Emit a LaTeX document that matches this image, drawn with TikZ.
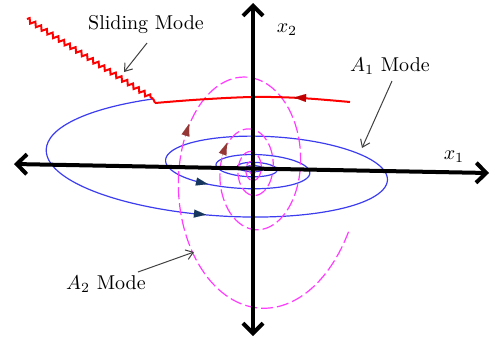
\documentclass[tikz,border=0pt]{standalone}
\usetikzlibrary{arrows.meta,decorations.pathmorphing}
\definecolor{spiralblue}{RGB}{60,60,240}
\definecolor{spiralmag}{RGB}{255,60,255}
\definecolor{navyarrow}{RGB}{23,54,93}
\definecolor{brownarrow}{RGB}{149,55,53}
\definecolor{darkred}{RGB}{192,0,0}
\definecolor{pointergray}{RGB}{64,64,64}
\tikzset{
  axis/.style={line width=2pt,{Straight Barb[length=5pt,width=10pt,line width=2pt]}-{Straight Barb[length=5pt,width=10pt,line width=2pt]}},
  bluecurve/.style={spiralblue,line width=0.6pt},
  magcurve/.style={spiralmag,line width=0.6pt,dash pattern=on 6pt off 2pt},
  slidecurve/.style={red,line width=1pt},
  pointer/.style={pointergray,line width=0.5pt,-{Straight Barb[length=3.5pt,width=5pt]}},
  flowhead/.style={line width=0.01pt,-{Triangle[length=6pt,width=4pt]}},
  lbl/.style={inner sep=1pt,font=\fontsize{10}{12}\selectfont}
}
\begin{document}
\begin{tikzpicture}[x=0.5pt,y=-0.5pt]
\useasboundingbox (0,0) rectangle (491,339);
% blue spiral (decaying, counter-clockwise on screen)
\draw[bluecurve] plot[domain=2.0:31,samples=500,variable=\t,smooth]
  ({253+315*exp(-0.137*\t)*cos(\t r)},
   {168-93.5*exp(-0.137*\t)*sin(\t r)+0.045*315*exp(-0.137*\t)*cos(\t r)});
% magenta spiral (decaying, clockwise on screen)
\draw[magcurve] plot[domain=0.4:31,samples=500,variable=\t,smooth]
  ({252+110.5*exp(-0.132*\t)*cos(\t r)},
   {169+169.8*exp(-0.132*\t)*sin(\t r)});
% sliding mode
\coordinate (zs) at (27,19);
\coordinate (ze) at (153.3,98.9);
\coordinate (hook) at (155,103);
\draw[slidecurve,decorate,decoration={zigzag,segment length=3.4pt,amplitude=1.1pt}] (zs) -- (ze);
\draw[slidecurve] (ze) -- (hook);
\draw[slidecurve] plot[smooth,tension=0.6] coordinates {(155,103) (200,99.5) (253,97) (300,98) (350,102)};
% flow arrowheads
\draw[flowhead,darkred,fill=darkred] (307,98) -- (294,97.5);
\draw[flowhead,navyarrow,fill=navyarrow] (196,181.5) -- (208,184.2);
\draw[flowhead,navyarrow,fill=navyarrow] (193,213.5) -- (206,214.7);
\draw[flowhead,brownarrow,fill=brownarrow] (185,137) -- (189,124);
\draw[flowhead,brownarrow,fill=brownarrow] (222,156) -- (227,143);
% axes
\coordinate (xl) at (14,164);
\coordinate (xr) at (489,173);
\coordinate (yt) at (253,3);
\coordinate (yb) at (253,336);
\draw[axis] (xl) -- (xr);
\draw[axis] (yb) -- (yt);
% labels
\node[lbl] (x2) at (287,30) {$x_2$};
\node[lbl] (x1) at (454,157) {$x_1$};
\node[lbl] (slide) at (146,25) {Sliding Mode};
\node[lbl] (a1) at (390,66) {$A_1$ Mode};
\node[lbl] (a2) at (106,284) {$A_2$ Mode};
% pointers
\coordinate (slidetip) at (124,72);
\coordinate (a1tip) at (362,148);
\coordinate (a2tip) at (194,252);
\draw[pointer] (147,43) -- (slidetip);
\draw[pointer] (392,81) -- (a1tip);
\draw[pointer] (138,272) -- (a2tip);
\end{tikzpicture}
\end{document}
